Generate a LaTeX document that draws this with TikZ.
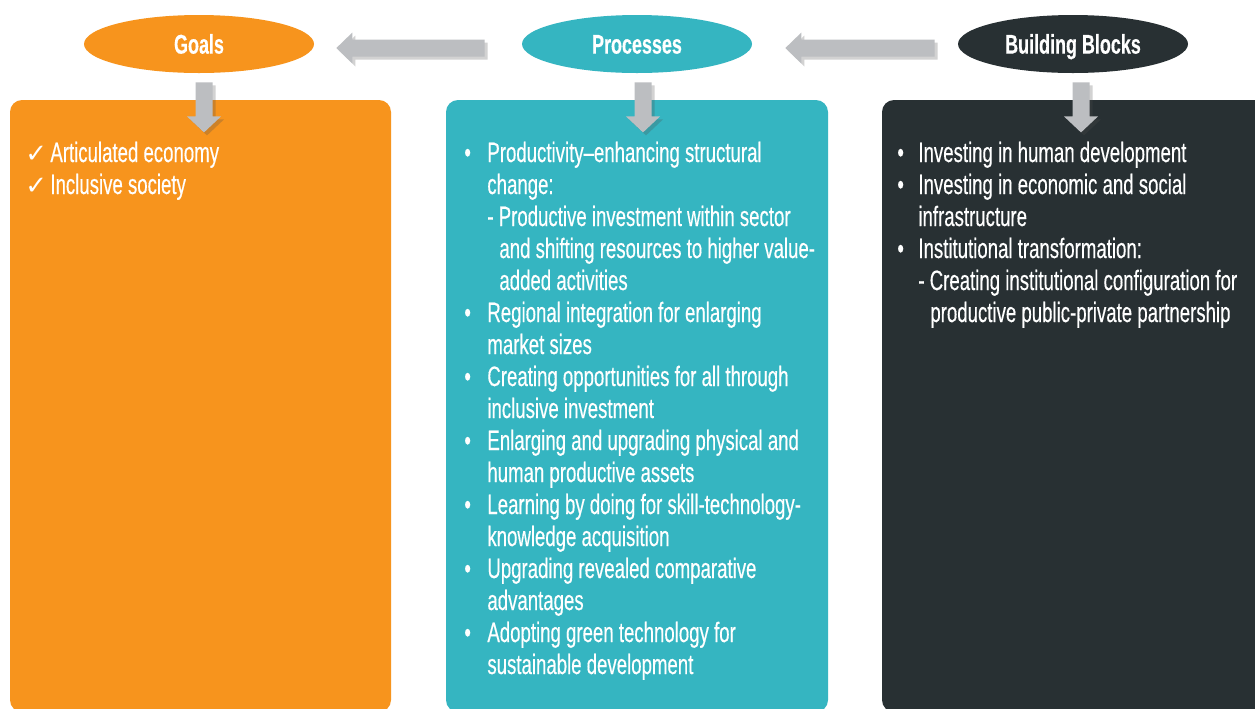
\documentclass[tikz,border=0pt]{standalone}
\usepackage{fontspec}
\setmainfont{Liberation Sans}[FakeStretch=0.665,FakeBold=0.35]
\newfontfamily\symfont{DejaVu Sans}
\usetikzlibrary{shapes.geometric,calc,shadows}
\definecolor{goalc}{HTML}{F7941D}
\definecolor{procc}{HTML}{35B5C1}
\definecolor{bbc}{HTML}{283033}
\definecolor{arrowc}{HTML}{BCBEC1}
\tikzset{
  head/.style={ellipse, minimum width=115pt, minimum height=29pt, inner sep=0pt,
    text height=9.6pt, text depth=0pt, text=white, font=\fontsize{13.5}{16}\selectfont\bfseries},
  txt/.style={anchor=base west, inner sep=0pt, text=white, font=\fontsize{14}{16}\selectfont},
  chk/.style={anchor=base west, inner sep=0pt, text=white, font=\symfont\fontsize{13}{16}\selectfont},
  blockarrow/.style={fill=arrowc, drop shadow={shadow xshift=1.5pt, shadow yshift=-1.5pt, opacity=0.25, fill=black!70}},
  panel/.style={rounded corners=6pt}
}
\newcommand\hblockarrow[2]{% #1 tip, #2 tail
  \path[blockarrow] (#1) -- ($(#1)+(16,-15.5)$) -- ($(#1)+(16,-8.5)$) -- ($(#2)+(0,-8.5)$)
    -- ($(#2)+(0,8.5)$) -- ($(#1)+(16,8.5)$) -- ($(#1)+(16,15.5)$) -- cycle;}
\newcommand\vblockarrow[2]{% #1 tail, #2 tip
  \path[blockarrow] (#2) -- ($(#2)+(-17,-16)$) -- ($(#2)+(-8.5,-16)$) -- ($(#1)+(-8.5,0)$)
    -- ($(#1)+(8.5,0)$) -- ($(#2)+(8.5,-16)$) -- ($(#2)+(17,-16)$) -- cycle;}
\begin{document}
\begin{tikzpicture}[x=0.5pt,y=-0.5pt]
\useasboundingbox (0,0) rectangle (1255,708);
\fill[white] (0,0) rectangle (1255,708);
% panels
\fill[goalc, panel] (10,100) rectangle (391,712);
\fill[procc, panel] (446,100) rectangle (828,712);
\fill[bbc, panel] (882,100) rectangle (1275,712);
% headings
\node[head, fill=goalc] (goals) at (199,44) {Goals};
\node[head, fill=procc] (proc) at (637,44) {Processes};
\node[head, fill=bbc] (bb) at (1073,44) {Building Blocks};
% horizontal arrows
\coordinate (h1tip) at ($(goals.east)+(22,4)$);
\coordinate (h1tail) at ($(proc.west)+(-37,4)$);
\coordinate (h2tip) at ($(proc.east)+(33,4)$);
\coordinate (h2tail) at ($(bb.west)+(-23,4)$);
\hblockarrow{h1tip}{h1tail}
\hblockarrow{h2tip}{h2tail}
% vertical arrows
\coordinate (v1tail) at ($(goals.south)+(5,9)$);
\coordinate (v1tip) at ($(goals.south)+(5,59)$);
\coordinate (v2tail) at ($(proc.south)+(6,9)$);
\coordinate (v2tip) at ($(proc.south)+(6,59)$);
\coordinate (v3tail) at ($(bb.south)+(8,9)$);
\coordinate (v3tip) at ($(bb.south)+(8,59)$);
\vblockarrow{v1tail}{v1tip}
\vblockarrow{v2tail}{v2tip}
\vblockarrow{v3tail}{v3tip}
% goals text
\node[chk] (gc1) at (25,162) {✓};
\node[chk] (gc2) at (25,194) {✓};
\node[txt] (g1) at (50,162) {Articulated economy};
\node[txt] (g2) at (50,194) {Inclusive society};
% processes text
\foreach \yy/\xx/\lbl [count=\i] in {
  153/487/Productivity–enhancing structural,
  185/487/change:,
  217/487/- Productive investment within sector,
  249/499/and shifting resources to higher value-,
  281/499/added activities,
  313/487/Regional integration for enlarging,
  345/487/market sizes,
  377/487/Creating opportunities for all through,
  409/487/inclusive investment,
  441/487/Enlarging and upgrading physical and,
  473/487/human productive assets,
  505/487/Learning by doing for skill-technology-,
  537/487/knowledge acquisition,
  569/487/Upgrading revealed comparative,
  601/487/advantages,
  633/487/Adopting green technology for,
  665/487/sustainable development}
  \node[txt] (p\i) at (\xx,\yy+9) {\lbl};
\foreach \yy [count=\i] in {153,313,377,441,505,569,633}
  \node[txt] (pb\i) at (464,\yy+9) {•};
% building blocks text
\foreach \yy/\xx/\lbl [count=\i] in {
  153/918/Investing in human development,
  185/918/Investing in economic and social,
  217/918/infrastructure,
  249/918/Institutional transformation:,
  281/918/- Creating institutional configuration for,
  313/930/productive public-private partnership}
  \node[txt] (b\i) at (\xx,\yy+9) {\lbl};
\foreach \yy [count=\i] in {153,185,249}
  \node[txt] (bb\i) at (897,\yy+9) {•};
\end{tikzpicture}
\end{document}
